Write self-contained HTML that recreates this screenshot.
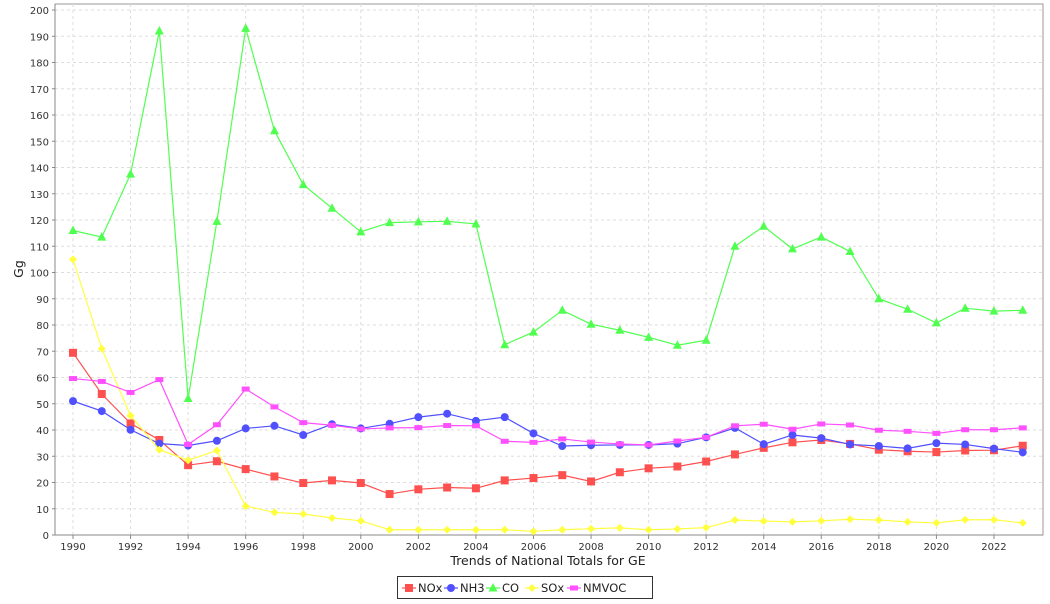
<!DOCTYPE html>
<html><head><meta charset="utf-8"><style>
body{margin:0;background:#fff;font-family:"DejaVu Sans",sans-serif}
svg text{font-family:"DejaVu Sans",sans-serif}
</style></head><body>
<svg id="c" width="1050" height="600"></svg>
<script>
const years=[];for(let y=1990;y<=2023;y++)years.push(y);
const nox=[69.4,53.7,42.5,36.2,26.6,28.1,25.1,22.3,19.8,20.8,19.8,15.6,17.4,18.1,17.8,20.8,21.7,22.8,20.4,23.9,25.4,26.1,28.0,30.7,33.2,35.3,36.2,34.7,32.5,31.9,31.6,32.2,32.3,34.0];
const nh3=[51,47.2,40.1,34.8,34.1,35.9,40.6,41.6,38.1,42.2,40.6,42.4,44.9,46.2,43.5,44.9,38.7,33.9,34.2,34.3,34.3,34.8,37.2,40.8,34.6,38.1,36.9,34.5,33.9,33.0,35.0,34.5,32.9,31.5];
const co=[116,113.5,137.5,192,52,119.5,193,154,133.5,124.5,115.5,119,119.3,119.5,118.5,72.5,77.3,85.6,80.3,78,75.3,72.3,74.2,110,117.6,109,113.5,108,90,86,80.8,86.4,85.3,85.6];
const sox=[105,71,45.5,32.5,28.5,32.2,11,8.6,8,6.5,5.4,2,2,2,2,2,1.4,2,2.4,2.7,2,2.3,2.8,5.7,5.3,5,5.4,6,5.7,5,4.6,5.8,5.8,4.6];
const nmvoc=[59.6,58.5,54.3,59.2,34.5,42,55.6,48.8,42.8,41.8,40.4,40.8,40.9,41.7,41.6,35.7,35.3,36.6,35.4,34.7,34.3,35.8,37.2,41.6,42.2,40.3,42.3,41.9,39.9,39.5,38.7,40.1,40.1,40.8];
const yTicks=[0,10,20,30,40,50,60,70,80,90,100,110,120,130,140,150,160,170,180,190,200];
const xTicks=[1990,1992,1994,1996,1998,2000,2002,2004,2006,2008,2010,2012,2014,2016,2018,2020,2022];
const L=55,R=1043,T=4,B=535;
const X=y=>73+(y-1990)*28.78;
const Y=v=>B-v*2.625;
const s=document.getElementById('c');const NS='http://www.w3.org/2000/svg';
function mk(t,a,p){const e=document.createElementNS(NS,t);for(const k in a)e.setAttribute(k,a[k]);(p||s).appendChild(e);return e;}
const bg=mk('rect',{x:L,y:T,width:R-L,height:B-T,fill:'#fff',stroke:'#999'});


yTicks.forEach(v=>{
 const g=mk('line',{x1:L,x2:R,y1:Y(v),y2:Y(v),stroke:'#ddd','stroke-dasharray':'3,3'});
 
 
 mk('line',{x1:L-3,x2:L,y1:Y(v),y2:Y(v),stroke:'#888'});
 const t=mk('text',{x:L-6,y:Y(v)+4,'text-anchor':'end','font-size':10,fill:'#333'});t.textContent=v;
 
 
});
xTicks.forEach(v=>{
 const g=mk('line',{x1:X(v),x2:X(v),y1:T,y2:B,stroke:'#ddd','stroke-dasharray':'3,3'});
 
 
 mk('line',{x1:X(v),x2:X(v),y1:B,y2:B+4,stroke:'#888'});
 const t=mk('text',{x:X(v),y:B+15,'text-anchor':'middle','font-size':10,fill:'#333'});t.textContent=v;
 
 
});
mk('line',{x1:L,x2:R,y1:B,y2:B,stroke:'#888'});
mk('line',{x1:L,x2:L,y1:T,y2:B,stroke:'#888'});
const xt=mk('text',{x:548,y:565,'text-anchor':'middle','font-size':12.5,fill:'#222'});xt.textContent='Trends of National Totals for GE';


const yt=mk('text',{x:0,y:0,transform:'translate(23,269) rotate(-90)','text-anchor':'middle','font-size':12.5,fill:'#222'});yt.textContent='Gg';


function marker(g,shape,x,y,c){
 if(shape==='sq')return mk('rect',{x:x-4,y:y-4,width:8,height:8,fill:c},g);
 if(shape==='ci')return mk('circle',{cx:x,cy:y,r:4,fill:c},g);
 if(shape==='tr')return mk('polygon',{points:`${x},${y-5} ${x+4.5},${y+3.5} ${x-4.5},${y+3.5}`,fill:c},g);
 if(shape==='di')return mk('polygon',{points:`${x},${y-4} ${x+4},${y} ${x},${y+4} ${x-4},${y}`,fill:c},g);
 if(shape==='rc')return mk('rect',{x:x-4,y:y-2.5,width:8,height:5,fill:c},g);
}
const series=[['NOx',nox,'#ff5050','sq'],['NH3',nh3,'#5050ff','ci'],['CO',co,'#50ff50','tr'],['SOx',sox,'#ffff40','di'],['NMVOC',nmvoc,'#ff50ff','rc']];
series.forEach(([n,d,c,sh])=>{
 const g=mk('g',{});
 
 
 mk('polyline',{points:d.map((v,i)=>X(years[i])+','+Y(v)).join(' '),fill:'none',stroke:c,'stroke-width':1.2},g);
 d.forEach((v,i)=>{const m=marker(g,sh,X(years[i]),Y(v),c);
  
  });
});
const lg=mk('g',{});


mk('rect',{x:397.5,y:576.5,width:255,height:22,fill:'#fff',stroke:'#333'},lg);
const lx=[402,444,486,525,567];
series.forEach(([n,d,c,sh],i)=>{
 const e=mk('g',{},lg);
 
 
 mk('line',{x1:lx[i],x2:lx[i]+14,y1:588,y2:588,stroke:c,'stroke-width':1.2},e);
 marker(e,sh,lx[i]+7,588,c);
 const t=mk('text',{x:lx[i]+16,y:592,'font-size':11.5,fill:'#222'},e);t.textContent=n;
});
</script>
</body></html>
